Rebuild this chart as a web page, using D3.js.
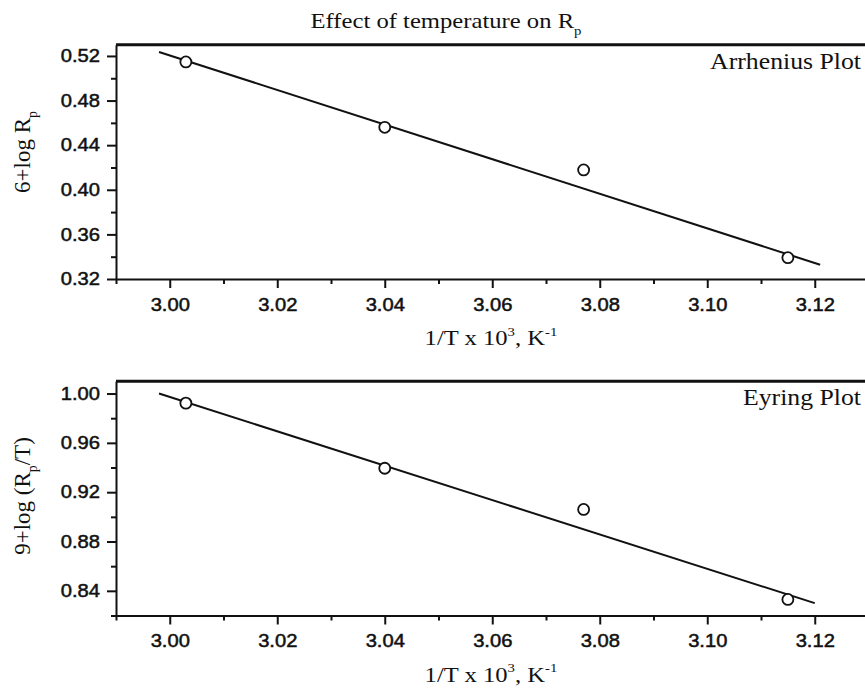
<!DOCTYPE html>
<html>
<head>
<meta charset="utf-8">
<script src="https://cdn.jsdelivr.net/npm/d3@7"></script>
<style>
  body { margin: 0; background: #fff; }
</style>
</head>
<body>
<div id="chart"></div>
<script>
// measured points (1/T x 10^3)
const invT = [3.003, 3.040, 3.077, 3.115];
const arrheniusY = [0.5146, 0.4560, 0.4178, 0.3391];
const eyringY = [0.9922, 0.9394, 0.9060, 0.8330];

const arrheniusFitX = [2.998, 3.121];
const arrheniusFitY = [0.5236, 0.3328];
const eyringFitX = [2.998, 3.120];
const eyringFitY = [1.000, 0.830];

// tick labels
const xMajor = [3.00, 3.02, 3.04, 3.06, 3.08, 3.10, 3.12];
const xMinor = [2.99, 3.01, 3.03, 3.05, 3.07, 3.09, 3.11];
const arrheniusMajor = [0.32, 0.36, 0.40, 0.44, 0.48, 0.52];
const arrheniusMinor = [0.34, 0.38, 0.42, 0.46, 0.50];
const eyringMajor = [0.84, 0.88, 0.92, 0.96, 1.00];
const eyringMinor = [0.82, 0.86, 0.90, 0.94, 0.98];

const width = 865, height = 689;
const serif = "'Liberation Serif', 'Times New Roman', serif";
const sans = "'Liberation Sans', Arial, sans-serif";
const stretch = 1.12;

const svg = d3.select("#chart")
  .append("svg")
  .attr("width", width)
  .attr("height", height);

const x = d3.scaleLinear().domain([2.99, 3.13]).range([116, 868.5]);

// text with sub/superscript parts
function addLabel(parent, px, py, anchor, parts, size, rotate) {
  const t = parent.append("text")
    .attr("transform", rotate
      ? `translate(${px},${py}) rotate(-90)`
      : `translate(${px},${py}) scale(${stretch},1)`)
    .attr("text-anchor", anchor)
    .attr("font-family", serif)
    .attr("font-size", size)
    .attr("fill", "#111");
  let shift = 0;
  parts.forEach(p => {
    const target = p.s === "sup" ? -0.42 * size : p.s === "sub" ? 0.3 * size : 0;
    t.append("tspan")
      .attr("dy", target - shift)
      .attr("font-size", p.s ? size * 0.6 : size)
      .text(p.t);
    shift = target;
  });
  return t;
}

function drawPanel(cfg) {
  const y = d3.scaleLinear().domain(cfg.yDomain).range(cfg.yRange);
  const g = svg.append("g");
  const bottom = cfg.yRange[0];

  // thick top rule
  g.append("line")
    .attr("x1", x(2.99)).attr("x2", width)
    .attr("y1", y(cfg.yDomain[1])).attr("y2", y(cfg.yDomain[1]))
    .attr("stroke", "#111").attr("stroke-width", 3);

  // minor ticks
  g.append("g")
    .attr("transform", `translate(${x(2.99)},0)`)
    .call(d3.axisLeft(y).tickValues(cfg.yMinor).tickSize(5).tickFormat(""))
    .call(a => a.select(".domain").remove());
  g.append("g")
    .attr("transform", `translate(0,${bottom})`)
    .call(d3.axisBottom(x).tickValues(xMinor).tickSize(5).tickFormat(""))
    .call(a => a.select(".domain").remove());

  // major axes
  const yAxis = g.append("g")
    .attr("transform", `translate(${x(2.99)},0)`)
    .call(d3.axisLeft(y).tickValues(cfg.yMajor).tickSize(9).tickSizeOuter(0)
      .tickFormat(d3.format(".2f")));
  yAxis.selectAll(".tick text")
    .attr("x", -16 / stretch)
    .attr("transform", `scale(${stretch},1)`);

  const xAxis = g.append("g")
    .attr("transform", `translate(0,${bottom})`)
    .call(d3.axisBottom(x).tickValues(xMajor).tickSize(9).tickSizeOuter(0)
      .tickFormat(d3.format(".2f")));
  xAxis.selectAll(".tick text")
    .attr("y", 19)
    .attr("transform", `scale(${stretch},1)`);

  g.selectAll(".domain, .tick line")
    .attr("stroke", "#111").attr("stroke-width", 2);
  g.selectAll(".tick text")
    .attr("font-family", sans).attr("font-size", 18).attr("fill", "#111")
    .attr("stroke", "#111").attr("stroke-width", 0.5);

  // fit line
  const line = d3.line().x(d => x(d[0])).y(d => y(d[1]));
  g.append("path")
    .datum(d3.zip(cfg.fitX, cfg.fitY))
    .attr("d", line)
    .attr("fill", "none")
    .attr("stroke", "#111")
    .attr("stroke-width", 2);

  // points
  g.selectAll("circle.pt")
    .data(d3.zip(invT, cfg.values))
    .join("circle")
    .attr("class", "pt")
    .attr("cx", d => x(d[0]))
    .attr("cy", d => y(d[1]))
    .attr("r", 5.5)
    .attr("fill", "#fff")
    .attr("stroke", "#111")
    .attr("stroke-width", 1.8);

  // panel name
  addLabel(g, 861, y(cfg.yDomain[1]) + 24, "end", [{ t: cfg.name }], 23);

  // x title
  addLabel(g, 491, bottom + 66, "middle", [
    { t: "1/T x 10" }, { t: "3", s: "sup" }, { t: ", K" }, { t: "-1", s: "sup" }
  ], 22);

  // y title
  addLabel(g, 30, cfg.yLabelY, "middle", cfg.yLabel, 23, true);
}

drawPanel({
  name: "Arrhenius Plot",
  yDomain: [0.32, 0.53],
  yRange: [279, 44.8],
  yMajor: arrheniusMajor,
  yMinor: arrheniusMinor,
  values: arrheniusY,
  fitX: arrheniusFitX,
  fitY: arrheniusFitY,
  yLabelY: 152,
  yLabel: [{ t: "6+log R" }, { t: "p", s: "sub" }]
});

drawPanel({
  name: "Eyring Plot",
  yDomain: [0.82, 1.01],
  yRange: [615.5, 381.2],
  yMajor: eyringMajor,
  yMinor: eyringMinor,
  values: eyringY,
  fitX: eyringFitX,
  fitY: eyringFitY,
  yLabelY: 496,
  yLabel: [{ t: "9+log (R" }, { t: "p", s: "sub" }, { t: "/T)" }]
});

// chart title
addLabel(svg, 446, 28, "middle", [
  { t: "Effect of temperature on R" }, { t: "p", s: "sub" }
], 22);
</script>
</body>
</html>
